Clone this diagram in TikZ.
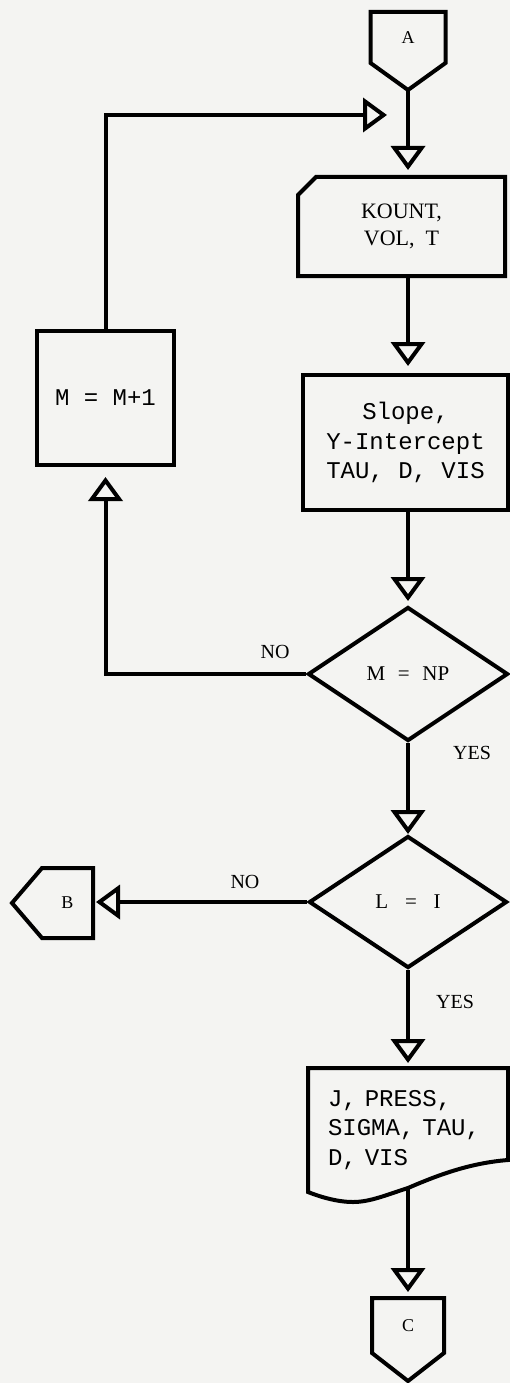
\documentclass[tikz,border=0pt]{standalone}
\usepackage{fontspec}
\setmainfont{Liberation Serif}
\newfontfamily\tyfont{Liberation Mono}
\usetikzlibrary{arrows.meta,shapes.geometric,calc}
\definecolor{bg}{RGB}{244,244,242}
\begin{document}
\begin{tikzpicture}[x=1pt,y=-1pt,line width=4pt,line join=miter,
  conn/.style={inner sep=0pt,outer sep=0pt,font=\fontsize{18}{20}\selectfont},
  proc/.style={rectangle,draw,inner sep=0pt,align=center,font=\tyfont\fontsize{24}{29.5}\selectfont},
  card/.style={rectangle,inner sep=0pt,outer sep=0pt,align=center,font=\fontsize{22}{27}\selectfont},
  jbox/.style={rectangle,inner ysep=0pt,outer sep=0pt,inner xsep=20pt,text width=160pt,align=left,font=\tyfont\fontsize{24}{29.5}\selectfont},
  dec/.style={diamond,draw,inner sep=0pt,font=\fontsize{21}{24}\selectfont},
  lbl/.style={inner sep=0pt,font=\fontsize{20}{22}\selectfont},
  arr/.style={-{Triangle[length=24pt,width=34pt,fill=bg]}}]
\path[use as bounding box,fill=bg] (0,0) rectangle (510,1383);

% connector A
\node[conn,minimum width=75pt,minimum height=51pt] (A) at (408,37.5) {A};
\coordinate (Atip) at ($(A.south)+(0,27)$);
\draw (A.south west) -- (A.north west) -- (A.north east) -- (A.south east) -- (Atip) -- cycle;

% card KOUNT
\node[card,minimum width=207pt,minimum height=99pt] (K) at (401.5,226.5) {KOUNT,\\VOL,\ \ T};
\draw (K.north east) -- (K.south east) -- (K.south west) -- ($(K.north west)+(0,18)$) -- ($(K.north west)+(18,0)$) -- cycle;

% process boxes
\node[proc,minimum width=137pt,minimum height=134pt] (M) at (105.5,398) {M = M+1};
\node[proc,minimum width=205pt,minimum height=135pt] (S) at (405.5,442.5) {Slope,\\Y-Intercept\\TAU, D, VIS};

% decisions
\node[dec,minimum width=200pt,minimum height=134pt] (D1) at (408,674) {M\hspace{0.6em}=\hspace{0.6em}NP};
\node[dec,minimum width=198pt,minimum height=132pt] (D2) at (408,902) {L\hspace{0.8em}=\hspace{0.8em}I};

% connector B
\node[conn,minimum width=51pt,minimum height=70pt] (B) at (67.5,903) {B};
\draw (B.north east) -- (B.north west) -- ($(B.west)+(-30,0)$) -- (B.south west) -- (B.south east) -- cycle;

% document J
\node[jbox,minimum width=200pt,minimum height=124pt] (J) at (408,1130) {J, PRESS,\\SIGMA, TAU,\\D, VIS};
\coordinate (Jout) at ($(J.south west)+(100,-4)$);
\draw (J.south west) -- (J.north west) -- (J.north east) -- ($(J.south east)+(0,-32)$)
  .. controls ($(J.south east)+(-38,-29)$) and ($(J.south east)+(-70,-17)$) .. (Jout)
  .. controls ($(J.south west)+(78,3)$) and ($(J.south west)+(62,10)$) .. ($(J.south west)+(45,10)$)
  .. controls ($(J.south west)+(28,10)$) and ($(J.south west)+(10,4)$) .. (J.south west) -- cycle;

% connector C
\node[conn,minimum width=72pt,minimum height=55pt] (C) at (408,1325.5) {C};
\coordinate (Ctip) at ($(C.south)+(0,28)$);
\draw (C.north west) -- (C.north east) -- (C.south east) -- (Ctip) -- (C.south west) -- cycle;

% loop end point
\coordinate (loopend) at (387,115);

% connectors
\draw[arr,shorten >=7pt] (Atip) -- (Atip |- K.north);
\draw[arr,shorten >=7pt] (Atip |- K.south) -- (Atip |- S.north);
\draw[arr,shorten >=4pt] (Atip |- S.south) -- (D1.north);
\draw[arr] (D1.south) -- (D2.north);
\draw[arr,shorten >=5pt] (D2.south) -- (D2.south |- J.north);
\draw[arr,shorten >=6pt] (Jout) -- (C.north);
\draw[arr,shorten >=10pt] (D1.west) -| (M.south);
\draw[arr] (M.north) |- (loopend);
\draw[arr,shorten >=3pt] (D2.west) -- (D2.west -| B.east);

% labels
\node[lbl] (no1) at (275,652) {NO};
\node[lbl] (yes1) at (472,753) {YES};
\node[lbl] (no2) at (245,882) {NO};
\node[lbl] (yes2) at (455,1002) {YES};
\end{tikzpicture}
\end{document}
